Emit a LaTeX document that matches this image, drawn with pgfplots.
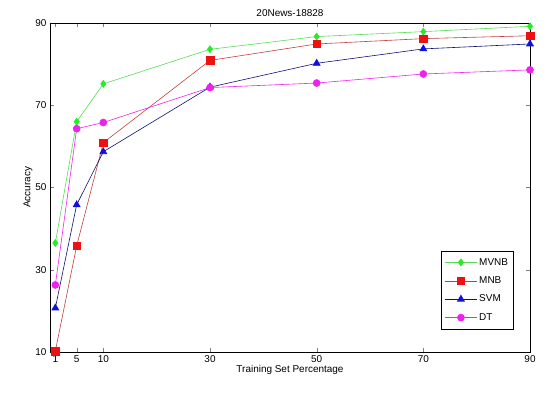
\documentclass[border=0pt]{standalone}
\usepackage{fontspec}
\setmainfont{Liberation Sans}
\usepackage{pgfplots}
\pgfplotsset{compat=1.18}
\usetikzlibrary{calc}
\definecolor{mvgreen}{HTML}{22EE22}
\definecolor{mvgline}{HTML}{55DD55}
\definecolor{mnred}{HTML}{EE1111}
\definecolor{mnline}{HTML}{C04040}
\definecolor{svblue}{HTML}{1010DD}
\definecolor{svline}{HTML}{101070}
\definecolor{dtmag}{HTML}{EE22EE}
\begin{document}
\begin{tikzpicture}
\begin{axis}[
  scale only axis, width=480bp, height=329bp,
  xmin=0, xmax=90, ymin=10, ymax=90,
  xtick={1,5,10,30,50,70,90}, ytick={10,30,50,70,90},
  tick align=inside, major tick length=4bp,
  axis line style={line width=0.8pt},
  font=\fontsize{10}{12}\selectfont,
  /pgf/number format/assume math mode=true,
  title={20News-18828}, title style={yshift=-3bp},
  xlabel={Training Set Percentage}, ylabel={Accuracy},
  xlabel style={yshift=4bp}, ylabel style={yshift=-4bp},
  every axis plot/.append style={line width=0.6pt},
  legend style={at={(0.965,0.07)}, anchor=south east, draw=black,
    font=\fontsize{10}{12}\selectfont, row sep=6bp, inner xsep=3bp, inner ysep=5bp},
  legend cell align=left,
  legend image code/.code={\draw[#1] (0bp,0bp) -- (16bp,0bp) -- (32bp,0bp); \path[#1,mark repeat=3,mark phase=2] plot coordinates {(0bp,0bp) (16bp,0bp) (32bp,0bp)};},
]
\addplot[color=mvgline, mark=diamond*, mark size=3.5bp, mark options={fill=mvgreen, draw=mvgreen}] coordinates {
(1,36.5) (5,66.0) (10,75.2) (30,83.6) (50,86.7) (70,87.9) (90,89.2)};
\addlegendentry{MVNB}
\addplot[color=mnline, mark=square*, mark size=3.8bp, mark options={fill=mnred, draw=mnred}] coordinates {
(1,10.2) (5,35.8) (10,60.9) (30,80.9) (50,84.9) (70,86.2) (90,86.9)};
\addlegendentry{MNB}
\addplot[color=svline, mark=triangle*, mark size=4bp, mark options={fill=svblue, draw=svblue}] coordinates {
(1,20.7) (5,45.8) (10,58.7) (30,74.4) (50,80.2) (70,83.7) (90,84.9)};
\addlegendentry{SVM}
\addplot[color=dtmag, mark=*, mark size=3.5bp, mark options={fill=dtmag, draw=dtmag}] coordinates {
(1,26.3) (5,64.3) (10,65.8) (30,74.3) (50,75.4) (70,77.6) (90,78.6)};
\addlegendentry{DT}
\end{axis}
\pgfresetboundingbox
\path[use as bounding box] ($(current axis.south west)+(-50bp,-48bp)$) rectangle ($(current axis.north east)+(20bp,23bp)$);
\end{tikzpicture}
\end{document}
